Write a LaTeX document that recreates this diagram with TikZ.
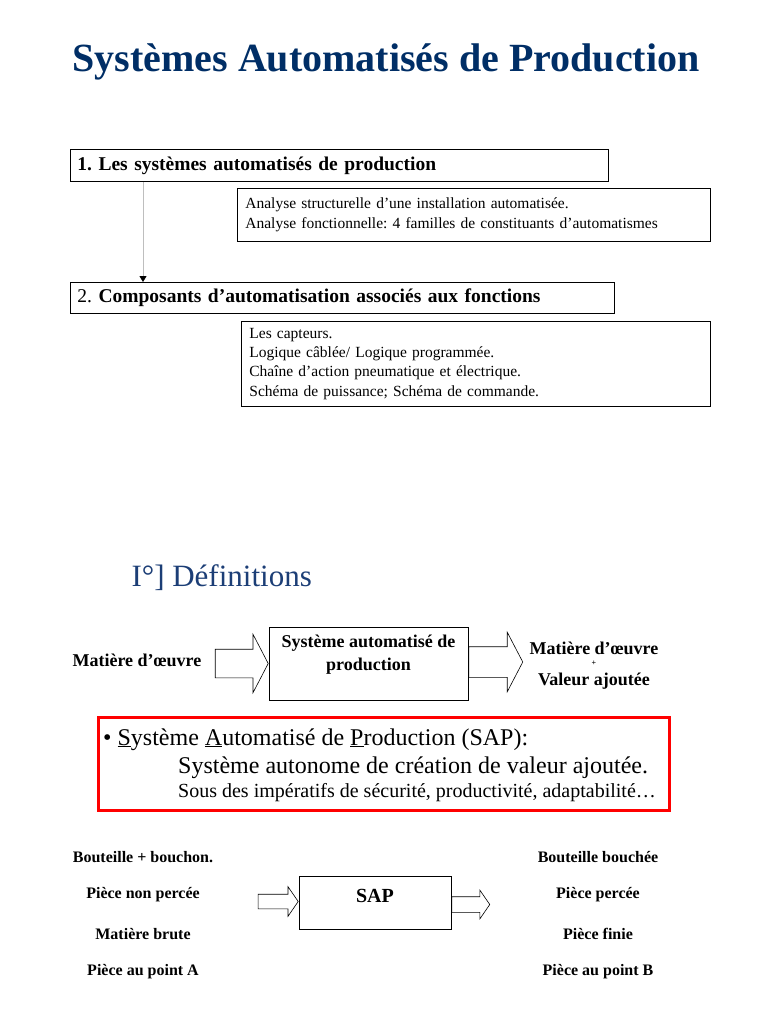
\documentclass[tikz,border=0pt]{standalone}
\usepackage{fontspec}
\setmainfont{Liberation Serif}
\usetikzlibrary{positioning,shapes.arrows,arrows.meta}
\definecolor{navy}{RGB}{0,46,102}
\definecolor{defblue}{RGB}{28,62,118}
\definecolor{linegray}{RGB}{190,190,190}
\frenchspacing

\begin{document}
\begin{tikzpicture}[x=1pt, y=-1pt,
		hb/.style = {rectangle, draw=black, line width=0.8pt, anchor=north west, inner xsep=7pt, align=left, font=\fontsize{19.5}{24}\selectfont},
		db/.style = {rectangle, draw=black, line width=0.8pt, anchor=north west, inner xsep=8pt, align=left, font=\fontsize{15.5}{19.3}\selectfont},
		pb/.style = {rectangle, draw=black, line width=0.9pt},
		lb/.style = {font=\bfseries\fontsize{16}{19}\selectfont},
		ml/.style = {font=\bfseries\fontsize{18}{23}\selectfont},
		ba/.style = {single arrow, draw=black, line width=0.6pt, inner xsep=0pt}
		]
		\useasboundingbox (0,0) rectangle (768,1024);
		
		%Title
		\node[font=\bfseries\fontsize{40}{48}\selectfont, text=navy] (title) at (386,62) {Systèmes Automatisés de Production};
		
		%Plan
		\node[hb, text width=524, minimum height=32] (part1) at (70,149) {\textbf{1. Les systèmes automatisés de production}};
		\node[db, text width=457, minimum height=53] (det1) at (237,188) {Analyse structurelle d’une installation automatisée.\\Analyse fonctionnelle: 4 familles de constituants d’automatismes};
		\node[hb, text width=530, minimum height=31] (part2) at (70,282) {2. \textbf{Composants d’automatisation associés aux fonctions}};
		\node[db, text width=453, minimum height=85] (det2) at (241,321) {Les capteurs.\\Logique câblée/ Logique programmée.\\Chaîne d’action pneumatique et électrique.\\Schéma de puissance; Schéma de commande.};
		
		\draw[linegray, line width=1pt, -{Triangle[black, width=7pt, length=6pt]}] ([xshift=73]part1.south west) -- ([xshift=73]part1.south west |- part2.north);
		
		%Definitions
		\node[anchor=west, text=defblue, font=\fontsize{31}{37}\selectfont] (defs) at (128,578) {I°] Définitions};
		
		\node[ml, anchor=west] (matin) at (69,660) {Matière d’œuvre};
		\node[pb, minimum width=199, minimum height=73] (sys) at (368.5,663.5) {};
		\node[ml, align=center, below=5pt of sys.north] (syslbl) {Système automatisé de\\production};
		\node[ba, minimum height=53, minimum width=58, inner ysep=14pt, single arrow head extend=15, single arrow tip angle=125, anchor=tip] (arrin) at (sys.west) {};
		\node[ba, minimum height=54, minimum width=59, inner ysep=15pt, single arrow head extend=14.5, single arrow tip angle=125, anchor=tail] (arrout) at ([yshift=1.5]sys.east) {};
		\node[ml] (matout) at (594,648) {Matière d’œuvre};
		\node[font=\bfseries\fontsize{8}{9}\selectfont] (plus) at (594,663) {+};
		\node[ml] (valout) at (594,681) {Valeur ajoutée};
		
		%SAP
		\node[draw=red, line width=2.6pt, minimum width=571, minimum height=93, anchor=north west] (sapdef) at (97,716) {};
		\node[anchor=base west, inner sep=0pt, font=\fontsize{24}{28}\selectfont] (sap1) at ([shift={(6,29)}]sapdef.north west) {• \underline{S}ystème \underline{A}utomatisé de \underline{P}roduction (SAP):};
		\node[anchor=base west, inner sep=0pt, font=\fontsize{24}{28}\selectfont] (sap2) at ([shift={(81,57)}]sapdef.north west) {Système autonome de création de valeur ajoutée.};
		\node[anchor=base west, inner sep=0pt, font=\fontsize{20}{24}\selectfont] (sap3) at ([shift={(81,81)}]sapdef.north west) {Sous des impératifs de sécurité, productivité, adaptabilité…};
		
		%Examples
		\node[pb, minimum width=152, minimum height=53] (sap) at (375,902.5) {};
		\node[font=\bfseries\fontsize{20}{24}\selectfont, below=10pt of sap.north] (saplbl) {SAP};
		\node[ba, minimum height=40, minimum width=29, inner ysep=7pt, single arrow head extend=7.5, single arrow tip angle=111, anchor=tip] (sapin) at ([yshift=1]sap.west) {};
		\node[ba, minimum height=38, minimum width=28, inner ysep=7.5pt, single arrow head extend=6.5, single arrow tip angle=111, anchor=tail] (sapout) at ([yshift=-2]sap.east) {};
		
		\node[lb] (in1)  at (143,857) {Bouteille + bouchon.};
		\node[lb] (in2)  at (143,895) {Pièce non percée};
		\node[lb] (in3)  at (143,934) {Matière brute};
		\node[lb] (in4)  at (143,972) {Pièce au point A};
		\node[lb] (out1) at (598,857) {Bouteille bouchée};
		\node[lb] (out2) at (598,895) {Pièce percée};
		\node[lb] (out3) at (598,934) {Pièce finie};
		\node[lb] (out4) at (598,972) {Pièce au point B};
		
	\end{tikzpicture}
\end{document}
